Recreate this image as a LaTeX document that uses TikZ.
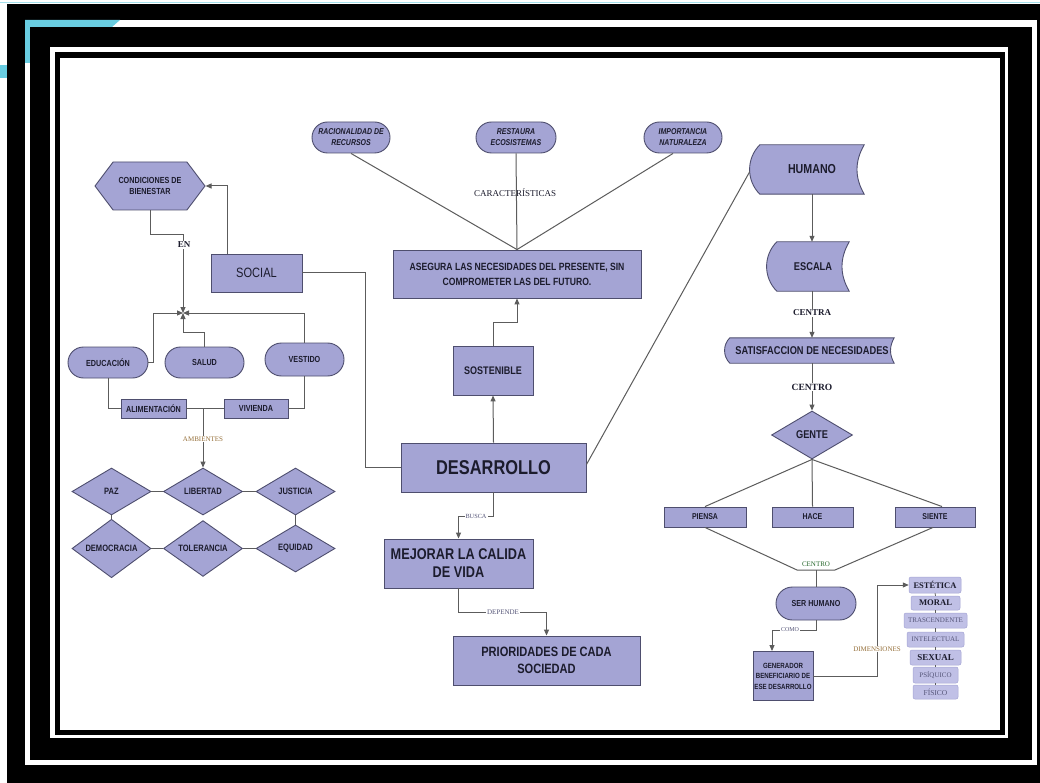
\documentclass[tikz,border=0pt]{standalone}
\usepackage{fontspec}
\setmainfont{Liberation Sans}[FakeStretch=0.82]
\newfontfamily\lblserif{Liberation Serif}
\usetikzlibrary{shapes.geometric,shapes.misc,shapes.symbols,arrows.meta,calc}
\pgfdeclarelayer{frame}
\pgfdeclarelayer{bg}
\pgfsetlayers{frame,bg,main}
\definecolor{lav}{RGB}{164,164,212}
\definecolor{lavlight}{RGB}{192,192,230}
\definecolor{edgecol}{RGB}{78,78,110}
\definecolor{wirecol}{RGB}{92,92,92}
\definecolor{ink}{RGB}{28,28,45}
\definecolor{inksoft}{RGB}{85,85,120}
\definecolor{tanlbl}{RGB}{150,112,58}
\definecolor{moss}{RGB}{40,105,45}
\definecolor{slidecyan}{RGB}{105,205,225}
\newcommand\fs[2]{\fontsize{#1}{#2}\selectfont}
\tikzset{
  box/.style={draw=edgecol, fill=lav, line width=0.9pt, inner sep=1pt, align=center, text=ink},
  pill/.style={box, rounded rectangle},
  dmd/.style={box, diamond, inner sep=0pt, minimum width=79pt, minimum height=47pt, font=\fs{9.2}{10}\bfseries},
  sdnode/.style={draw=none, fill=none, inner sep=1pt, align=center, text=ink},
  sdfill/.style={draw=edgecol, fill=lav, line width=0.9pt},
  dimbox/.style={fill=lavlight, draw=lav, line width=0.5pt, rounded corners=2pt, inner sep=0pt},
  wire/.style={draw=wirecol, line width=1pt},
  arr/.style={wire, -{Triangle[length=6pt,width=5pt]}},
  tag/.style={font=\lblserif, inner sep=1pt, text=ink},
  tagw/.style={tag, fill=white},
}
% flowchart "stored data" outline behind an invisible node
\newcommand\storedshape[1]{%
  \begin{pgfonlayer}{bg}
    \path[sdfill] (#1.north west) to[out=225,in=135] (#1.south west)
      -- (#1.south east) to[out=120,in=240] (#1.north east) -- cycle;
  \end{pgfonlayer}}
\begin{document}
\begin{tikzpicture}[x=1pt,y=1pt]
\useasboundingbox (0,0) rectangle (1040,-783);
% ---------- frame ----------
\begin{pgfonlayer}{frame}
\fill[white] (0,0) rectangle (1040,-783);
\draw[slidecyan!60, line width=1.2pt] (0,-2.5) -- (1040,-2.5);
\fill[slidecyan] (0,-65) rectangle (7,-78);
\fill[black] (7,-4) rectangle (1040,-783);
\fill[white] (25,-20) rectangle (1037,-765);
\fill[slidecyan] (25,-20) -- (120,-20) -- (112,-27) -- (30,-27) -- (30,-63) -- (25,-63) -- cycle;
\fill[black] (30,-27) rectangle (1032,-760);
\fill[white] (50,-47) rectangle (1008,-738);
\fill[black] (55,-52) rectangle (1005,-735);
\fill[white] (60,-58) rectangle (1000,-730);
\end{pgfonlayer}

% ---------- left cluster ----------
\node[box, signal, signal to=west and east, signal pointer angle=106,
      minimum width=110pt, minimum height=48pt, font=\fs{8.8}{11}\bfseries]
      (cond) at (150,-186) {CONDICIONES DE\\BIENESTAR};
\node[box, minimum width=91pt, minimum height=38pt, font=\fs{13.5}{15}] (social) at (256.5,-273) {SOCIAL};
\coordinate (J) at (183,-313);
\node[pill, minimum width=82pt, minimum height=31pt, font=\fs{8.8}{10}\bfseries] (educ) at (108,-362.5) {EDUCACIÓN};
\node[pill, minimum width=81pt, minimum height=31pt, font=\fs{8.8}{10}\bfseries] (salud) at (204.5,-362.5) {SALUD};
\node[pill, minimum width=81pt, minimum height=33pt, font=\fs{8.8}{10}\bfseries] (vest) at (304.5,-359.5) {VESTIDO};
\node[box, minimum width=65pt, minimum height=19pt, font=\fs{8.8}{10}\bfseries] (alim) at (153.5,-408.5) {ALIMENTACIÓN};
\node[box, minimum width=64pt, minimum height=19pt, font=\fs{8.8}{10}\bfseries] (viv) at (256,-408.5) {VIVIENDA};
\node[dmd] (paz) at (111.5,-491.5) {PAZ};
\node[dmd] (lib) at (203,-491.5) {LIBERTAD};
\node[dmd] (jus) at (295.5,-491.5) {JUSTICIA};
\node[dmd] (dem) at (111.5,-548.5) {DEMOCRACIA};
\node[dmd] (tol) at (203,-548.5) {TOLERANCIA};
\node[dmd] (equ) at (295.5,-548.5) {EQUIDAD};

\draw[arr] ([xshift=17pt]social.north west) |- (cond.east);
\draw[arr] (cond.south) -- ++(0,-24) -| (J);
\node[tagw, font=\lblserif\fs{9}{10}\bfseries] (en) at (184,-245) {EN};
\draw[arr] (educ.east) -- ++(5,0) |- (J);
\draw[arr] (salud.north) -- ++(0,14) -| (J);
\draw[arr] (vest.north) |- (J);
\draw[wire] (educ.south) |- (alim.west);
\draw[wire] (vest.south) |- (viv.east);
\draw[wire] (alim.east) -- (viv.west);
\draw[arr] (lib.north |- alim.east) -- (lib.north);
\node[tagw, font=\lblserif\fs{7}{8}, text=tanlbl] (amb) at (203,-439) {AMBIENTES};
\draw[wire] (paz.east) -- (lib.west);
\draw[wire] (lib.east) -- (jus.west);
\draw[wire] (dem.east) -- (tol.west);
\draw[wire] (tol.east) -- (equ.west);
\draw[wire] (paz.south) -- (dem.north);
\draw[wire] (jus.south) -- (equ.north);

% ---------- centre ----------
\node[pill, minimum width=80pt, minimum height=31pt, font=\fs{8.5}{11}\bfseries\itshape] (rac) at (351,-137.5) {RACIONALIDAD DE\\RECURSOS};
\node[pill, minimum width=82pt, minimum height=31pt, font=\fs{8.5}{11}\bfseries\itshape] (rest) at (516,-137.5) {RESTAURA\\ECOSISTEMAS};
\node[pill, minimum width=80pt, minimum height=31pt, font=\fs{8.5}{11}\bfseries\itshape] (imp) at (683,-137.5) {IMPORTANCIA\\NATURALEZA};
\node[box, minimum width=248pt, minimum height=48pt, font=\fs{10.5}{15}\bfseries] (ases) at (517,-274)
   {ASEGURA LAS NECESIDADES DEL PRESENTE, SIN\\COMPROMETER LAS DEL FUTURO.};
\node[box, minimum width=80pt, minimum height=49pt, font=\fs{11}{12}\bfseries] (sost) at (493,-370.5) {SOSTENIBLE};
\node[box, minimum width=185pt, minimum height=49pt, font=\fs{20}{22}\bfseries] (des) at (493.5,-467.5) {DESARROLLO};
\node[box, minimum width=149pt, minimum height=49pt, font=\fs{15.5}{18}\bfseries] (mej) at (458.5,-563.5) {MEJORAR LA CALIDA\\DE VIDA};
\node[box, minimum width=187pt, minimum height=49pt, font=\fs{13.5}{17}\bfseries] (prio) at (546.5,-660.5) {PRIORIDADES DE CADA\\SOCIEDAD};

\draw[wire] (rac.south) -- (ases.north);
\draw[wire] (rest.south) -- (ases.north);
\draw[wire] ([xshift=-10pt]imp.south) -- (ases.north);
\node[tag, font=\lblserif\fs{9}{10}] (carac) at (515,-193) {CARACTERÍSTICAS};
\draw[arr] (sost.north) -- ++(0,23) -| (ases.south);
\draw[arr] (des.north) -- (sost.south);
\draw[wire] (social.east) -- ++(63,0) |- (des.west);
\draw[arr] (des.south) -- ++(0,-24) -| (mej.north);
\node[tagw, font=\lblserif\fs{6.3}{7}, text=inksoft] (busca) at (476,-516) {BUSCA};
\draw[arr] (mej.south) -- ++(0,-24) -| (prio.north);
\node[tagw, font=\lblserif\fs{7}{8}, text=inksoft] (depende) at (503,-612) {DEPENDE};

% ---------- right cluster ----------
\node[sdnode, minimum width=104pt, minimum height=49pt, font=\fs{13}{14}\bfseries] (hum) at (812,-169.5) {HUMANO};
\storedshape{hum}
\node[sdnode, minimum width=72pt, minimum height=49pt, font=\fs{11.3}{12}\bfseries] (esc) at (813,-266.5) {ESCALA};
\storedshape{esc}
\node[sdnode, minimum width=164pt, minimum height=25pt, font=\fs{11.3}{12}\bfseries] (sat) at (812,-350.5) {SATISFACCION DE NECESIDADES};
\storedshape{sat}
\node[dmd, minimum width=81pt, minimum height=48pt, font=\fs{11.3}{12}\bfseries] (gente) at (812,-435) {GENTE};
\node[box, minimum width=82pt, minimum height=20pt, font=\fs{8.5}{10}\bfseries] (pien) at (705,-517) {PIENSA};
\node[box, minimum width=81pt, minimum height=20pt, font=\fs{8.5}{10}\bfseries] (hace) at (812.5,-517) {HACE};
\node[box, minimum width=80pt, minimum height=20pt, font=\fs{8.5}{10}\bfseries] (sien) at (935,-517) {SIENTE};
\node[pill, minimum width=82pt, minimum height=33pt, font=\fs{8.7}{10}\bfseries] (ser) at (816,-603.5) {SER HUMANO};
\node[box, minimum width=60pt, minimum height=49pt, font=\fs{7.5}{10.5}\bfseries] (gdr) at (783,-676) {GENERADOR\\BENEFICIARIO DE\\ESE DESARROLLO};

\node[dimbox, minimum width=52pt, minimum height=16pt, font=\lblserif\fs{8.5}{9}\bfseries, text=ink] (est) at (935,-585) {ESTÉTICA};
\node[dimbox, minimum width=49pt, minimum height=14pt, font=\lblserif\fs{8.6}{9}\bfseries, text=ink] (mor) at (935.5,-603) {MORAL};
\node[dimbox, minimum width=63pt, minimum height=15pt, font=\lblserif\fs{7}{8}, text=inksoft] (tra) at (935.5,-620.5) {TRASCENDENTE};
\node[dimbox, minimum width=57pt, minimum height=15pt, font=\lblserif\fs{7}{8}, text=inksoft] (intl) at (935.5,-639.5) {INTELECTUAL};
\node[dimbox, minimum width=51pt, minimum height=15pt, font=\lblserif\fs{9}{10}\bfseries, text=ink] (sex) at (935.5,-657.5) {SEXUAL};
\node[dimbox, minimum width=45pt, minimum height=16pt, font=\lblserif\fs{7}{8}, text=inksoft] (psi) at (935.5,-675) {PSÍQUICO};
\node[dimbox, minimum width=45pt, minimum height=14pt, font=\lblserif\fs{7.5}{8}, text=inksoft] (fis) at (935.5,-692) {FÍSICO};

\draw[wire] ([yshift=3pt]des.east) -- ([xshift=-10pt,yshift=-2pt]hum.west);
\draw[arr] (hum.south) -- (hum.south |- esc.north);
\draw[arr] (esc.south -| hum.south) -- (hum.south |- sat.north);
\node[tagw, font=\lblserif\fs{9}{10}\bfseries] (centra) at (812,-313) {CENTRA};
\draw[arr] (sat.south) -- (gente.north);
\node[tagw, font=\lblserif\fs{9.5}{10}\bfseries] (centro) at (812,-387) {CENTRO};
\draw[wire] (gente.south) -- (pien.north);
\draw[wire] (gente.south) -- (hace.north);
\draw[wire] (gente.south) -- ([xshift=7pt]sien.north);
\coordinate (cl) at (797,-570);
\coordinate (cr) at (835,-570);
\draw[wire] (pien.south) -- (cl) -- (cr) -- ([xshift=-2pt]sien.south);
\node[tag, font=\lblserif\fs{7}{8}, text=moss] (centrob) at (816,-564.5) {CENTRO};
\draw[wire] ($(cl)!0.5!(cr)$) -- (ser.north);
\draw[arr] (ser.south) -- ++(0,-10) -| ([xshift=-11pt]gdr.north);
\node[tagw, font=\lblserif\fs{6}{7}, text=inksoft] (como) at (790,-630) {COMO};
\draw[arr] (gdr.east) -- ++(64,0) |- (est.west);
\node[tagw, font=\lblserif\fs{7}{8}, text=tanlbl] (dimlbl) at (877,-649) {DIMENSIONES};
\draw[wire, line width=0.8pt] (est.south) -- (mor.north);
\draw[wire, line width=0.8pt] (mor.south) -- (tra.north);
\draw[wire, line width=0.8pt] (tra.south) -- (intl.north);
\draw[wire, line width=0.8pt] (intl.south) -- (sex.north);
\draw[wire, line width=0.8pt] (sex.south) -- (psi.north);
\draw[wire, line width=0.8pt] (psi.south) -- (fis.north);
\end{tikzpicture}
\end{document}
